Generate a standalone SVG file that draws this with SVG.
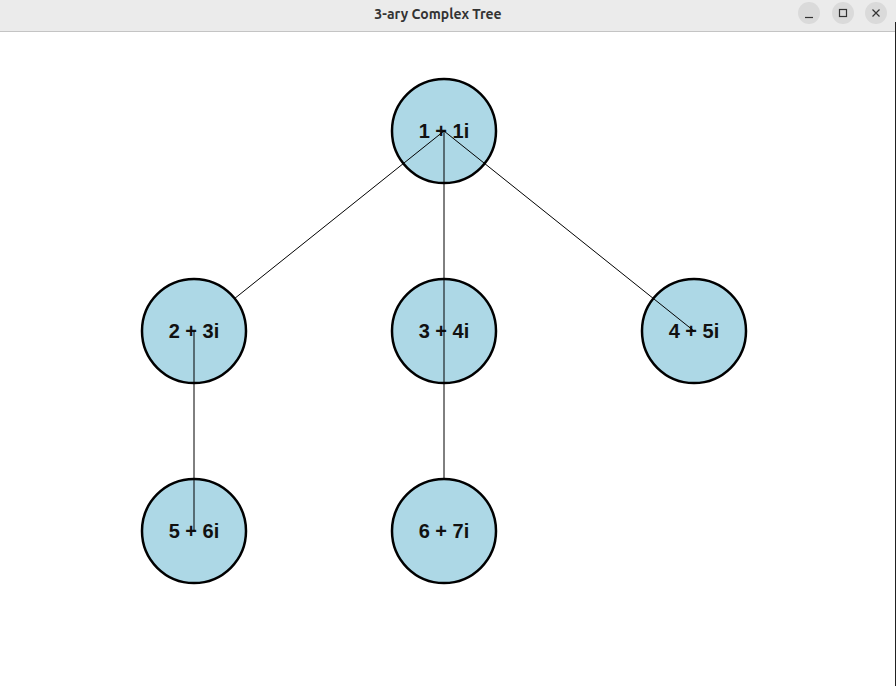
<svg xmlns="http://www.w3.org/2000/svg" width="896" height="686" viewBox="0 0 896 686">
  <style>
    .node { fill: #add8e6; stroke: #000; stroke-width: 2.5; }
    .label { font-family: "Liberation Sans", Arial, sans-serif; font-weight: bold; font-size: 20px; fill: #111; text-anchor: middle; }
    .edge { stroke: #000; stroke-width: 1; fill: none; }
    .btn { fill: #dadada; }
    .glyph { stroke: #333; stroke-width: 1.2; fill: none; }
  </style>

  <!-- window frame -->
  <rect x="0" y="0" width="896" height="686" fill="#ffffff"/>
  <g id="titlebar">
    <rect x="0" y="0" width="896" height="31" fill="#ebebeb"/>
    <line x1="0" y1="31.5" x2="896" y2="31.5" stroke="#c4c4c4" stroke-width="1"/>
    <text x="438" y="19" font-family="Ubuntu, 'Open Sans', 'DejaVu Sans', sans-serif" font-weight="bold" font-size="14" fill="#333" text-anchor="middle">3-ary Complex Tree</text>
    <circle class="btn" cx="809" cy="13" r="11"/>
    <line class="glyph" x1="805" y1="17.5" x2="813" y2="17.5"/>
    <circle class="btn" cx="843" cy="13" r="11"/>
    <rect class="glyph" x="839.5" y="9.5" width="7" height="7"/>
    <circle class="btn" cx="876" cy="13" r="11"/>
    <path class="glyph" d="M872.5 9.5 L879.5 16.5 M879.5 9.5 L872.5 16.5"/>
  </g>
  <line x1="895.5" y1="22" x2="895.5" y2="686" stroke="#222" stroke-width="1"/>

  <!-- nodes and edges, stacked in paint order -->
  <g id="n1">
    <circle class="node" cx="444" cy="131" r="52"/>
    <text class="label" x="444" y="138">1 + 1i</text>
  </g>
  <g id="edges-a">
    <line class="edge" x1="444" y1="131" x2="194" y2="331"/>
  </g>
  <g id="n2">
    <circle class="node" cx="194" cy="331" r="52"/>
    <text class="label" x="194" y="338">2 + 3i</text>
  </g>
  <g id="n5">
    <circle class="node" cx="194" cy="531" r="52"/>
    <text class="label" x="194" y="538">5 + 6i</text>
  </g>
  <g id="edges-b">
    <line class="edge" x1="194" y1="331" x2="194" y2="531"/>
  </g>
  <g id="n3">
    <circle class="node" cx="444" cy="331" r="52"/>
    <text class="label" x="444" y="338">3 + 4i</text>
  </g>
  <g id="edges-c">
    <line class="edge" x1="444" y1="331" x2="444" y2="531"/>
  </g>
  <g id="n6">
    <circle class="node" cx="444" cy="531" r="52"/>
    <text class="label" x="444" y="538">6 + 7i</text>
  </g>
  <g id="edges-d">
    <line class="edge" x1="444" y1="131" x2="444" y2="331"/>
  </g>
  <g id="n4">
    <circle class="node" cx="694" cy="331" r="52"/>
    <text class="label" x="694" y="338">4 + 5i</text>
  </g>
  <g id="edges-e">
    <line class="edge" x1="444" y1="131" x2="694" y2="331"/>
  </g>
</svg>
